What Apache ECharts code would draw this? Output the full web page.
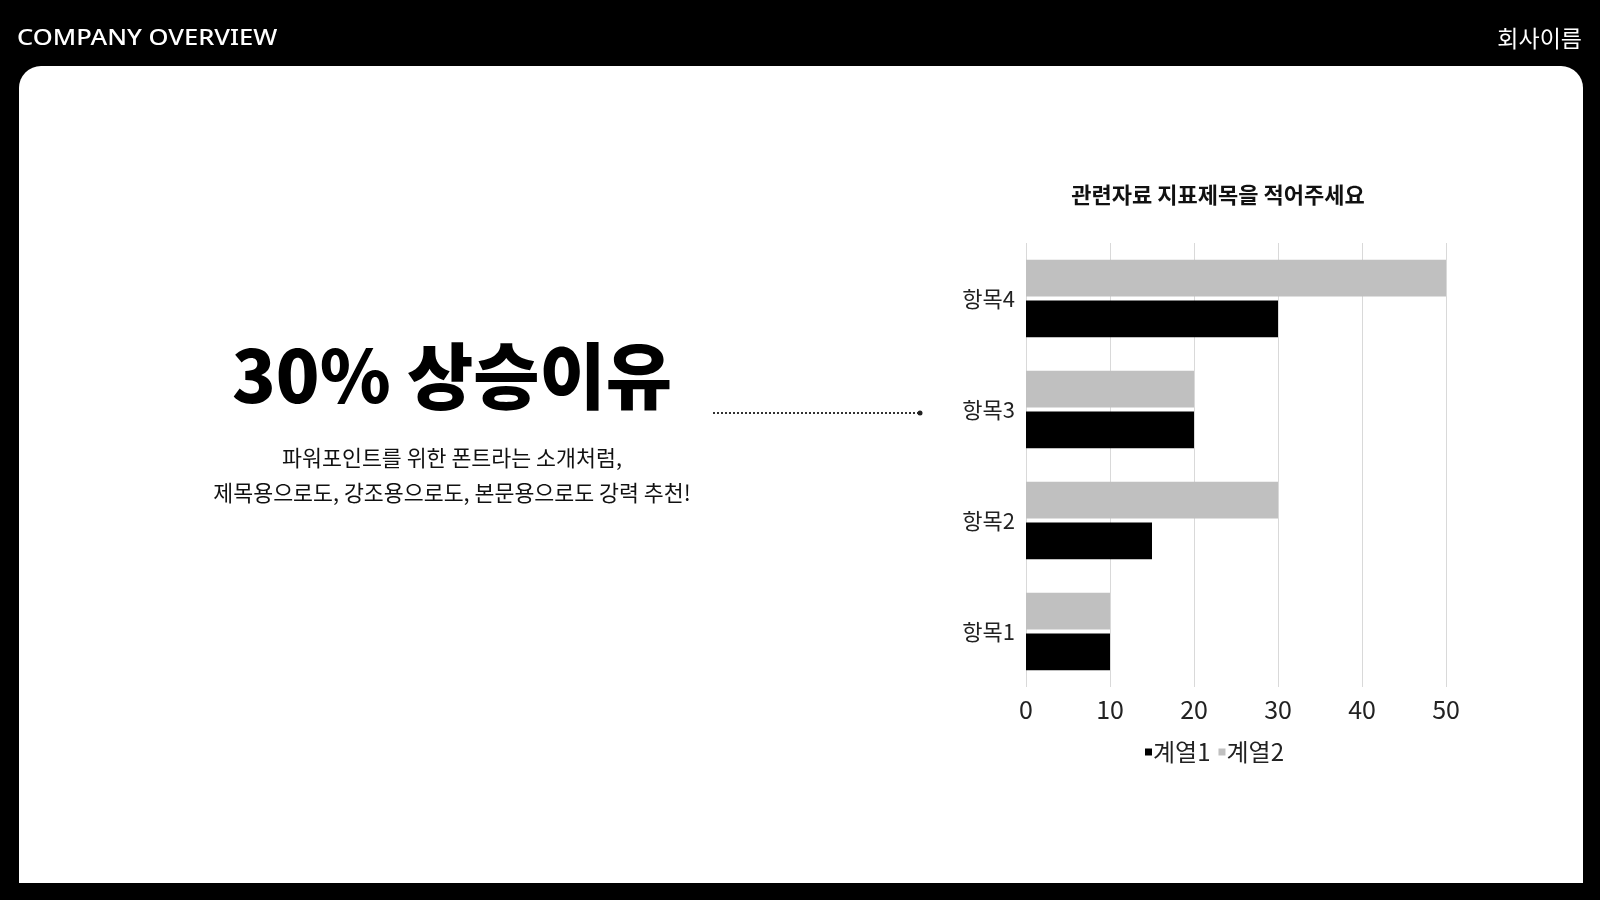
<!DOCTYPE html>
<html>
<head>
<meta charset="utf-8">
<script src="https://cdn.jsdelivr.net/npm/echarts@6/dist/echarts.min.js"></script>
<style>
html,body{margin:0;padding:0;background:#000;}
#c{width:1600px;height:900px;}
</style>
</head>
<body>
<div id="c"></div>
<script>
const categories = ['항목1', '항목2', '항목3', '항목4'];
const series1Name = '계열1';
const series2Name = '계열2';
const series1Values = [10, 15, 20, 30];
const series2Values = [10, 30, 20, 50];
const xTicks = [0, 10, 20, 30, 40, 50];

const KR = '"Noto Sans CJK KR", "Noto Sans", sans-serif';
const chart = echarts.init(document.getElementById('c'), null, {renderer: 'canvas'});

chart.setOption({
  backgroundColor: '#000',
  animation: false,
  graphic: [
    {type: 'rect', z: -10, shape: {x: 19, y: 66, width: 1564, height: 817, r: [22, 22, 0, 0]}, style: {fill: '#fff'}},
    {type: 'text', x: 17, y: 39, scaleX: 1.16, style: {text: 'COMPANY OVERVIEW', fill: '#fff', font: '500 22px "Noto Sans", sans-serif', textVerticalAlign: 'middle', textAlign: 'left'}},
    {type: 'text', x: 1582, y: 38, style: {text: '회사이름', fill: '#fff', font: '400 23px ' + KR, textVerticalAlign: 'middle', textAlign: 'right'}},
    {type: 'text', x: 452, y: 376, style: {text: '30% 상승이유', fill: '#000', font: '900 72px ' + KR, textVerticalAlign: 'middle', textAlign: 'center'}},
    {type: 'text', x: 452, y: 458, style: {text: '파워포인트를 위한 폰트라는 소개처럼,', fill: '#111', font: '400 21.7px ' + KR, textVerticalAlign: 'middle', textAlign: 'center'}},
    {type: 'text', x: 452, y: 493, style: {text: '제목용으로도, 강조용으로도, 본문용으로도 강력 추천!', fill: '#111', font: '400 21.7px ' + KR, textVerticalAlign: 'middle', textAlign: 'center'}},
    {type: 'line', shape: {x1: 713, y1: 413, x2: 919, y2: 413}, style: {stroke: '#333', lineWidth: 2, lineDash: [2, 2]}},
    {type: 'circle', shape: {cx: 920, cy: 413, r: 2.5}, style: {fill: '#222'}},
    {type: 'text', x: 1218, y: 195, style: {text: '관련자료 지표제목을 적어주세요', fill: '#111', font: '700 22px ' + KR, textVerticalAlign: 'middle', textAlign: 'center'}}
  ],
  legend: {
    data: [series1Name, series2Name],
    left: 1140, top: 735,
    icon: 'rect', itemWidth: 7, itemHeight: 7, itemGap: 8,
    textStyle: {fontSize: 24, color: '#222', fontFamily: KR, padding: [0, 0, 0, -4]}
  },
  grid: {left: 1026, right: 154, top: 243, bottom: 213, containLabel: false},
  xAxis: {
    type: 'value', min: xTicks[0], max: xTicks[xTicks.length - 1], interval: 10,
    axisLine: {show: false}, axisTick: {show: false},
    splitLine: {lineStyle: {color: '#d9d9d9', width: 1}},
    axisLabel: {fontSize: 25, color: '#222', fontFamily: KR, margin: 10}
  },
  yAxis: {
    type: 'category', data: categories,
    axisLine: {show: false}, axisTick: {show: false},
    axisLabel: {fontSize: 22, color: '#222', fontFamily: KR, margin: 11}
  },
  series: [
    {name: series2Name, type: 'bar', data: series2Values, itemStyle: {color: '#c0c0c0'}, barGap: '11%', barCategoryGap: '30%'},
    {name: series1Name, type: 'bar', data: series1Values, itemStyle: {color: '#000'}, barGap: '11%', barCategoryGap: '30%'}
  ]
});
</script>
</body>
</html>
